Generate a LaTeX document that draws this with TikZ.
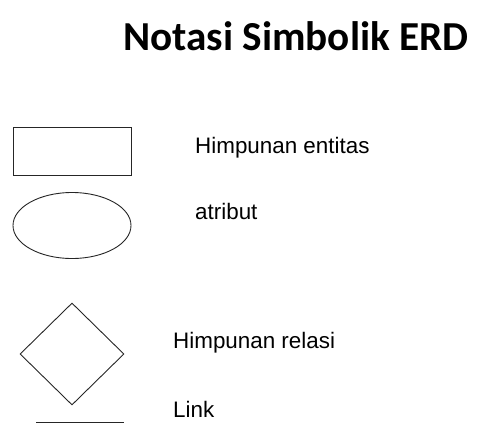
\documentclass[tikz,border=0pt]{standalone}
\usepackage{fontspec}
\setmainfont{Liberation Sans}
\newfontfamily\titlefont{Carlito}
\usetikzlibrary{shapes.geometric}
\begin{document}
\begin{tikzpicture}[x=1pt,y=-1pt,
  shapeline/.style={draw=black!85,line width=0.9pt,inner sep=0pt},
  label/.style={anchor=base west,inner sep=0pt,font=\fontsize{22.4}{26}\selectfont}]
\useasboundingbox (0,0) rectangle (491,437);
\node[anchor=base west,inner sep=0pt,font=\titlefont\bfseries\fontsize{41.2}{46}\selectfont] (title) at (123,50) {Notasi Simbolik ERD};
\node[shapeline,rectangle,minimum width=118pt,minimum height=48pt] (ent) at (72,151) {};
\node[label] (entl) at (195,153) {Himpunan entitas};
\node[shapeline,ellipse,minimum width=118pt,minimum height=66pt] (attr) at (72,225.5) {};
\node[label] (attrl) at (195,219) {atribut};
\node[shapeline,diamond,aspect=1,minimum width=104pt,minimum height=102pt] (rel) at (72,354) {};
\node[label] (rell) at (173,348) {Himpunan relasi};
\coordinate (la) at (36,422);
\coordinate (lb) at (124,422);
\draw[black!85,line width=0.9pt] (la) -- (lb);
\node[label] (linkl) at (173,417) {Link};
\end{tikzpicture}
\end{document}
